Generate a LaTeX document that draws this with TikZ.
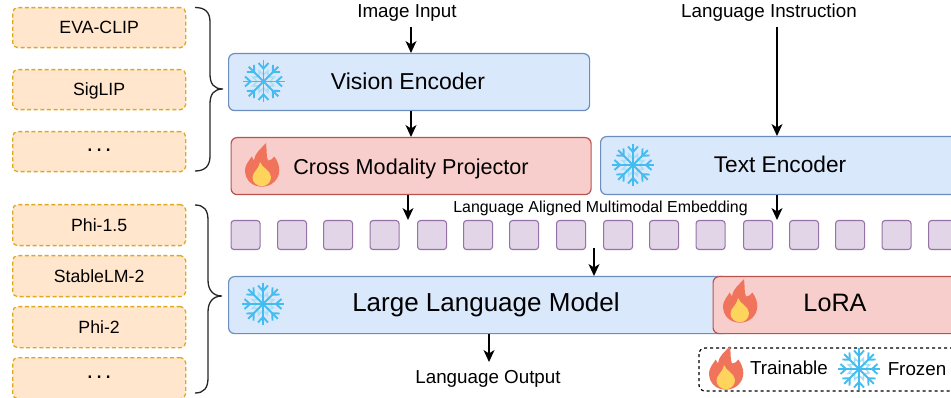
\documentclass[tikz,border=0pt]{standalone}
\usepackage{fontspec}
\setmainfont{Liberation Sans}
\usetikzlibrary{arrows.meta}
\definecolor{bluef}{HTML}{DAE8FC}\definecolor{blued}{HTML}{6C8EBF}
\definecolor{redf}{HTML}{F8CECC}\definecolor{redd}{HTML}{B85450}
\definecolor{orf}{HTML}{FFE6CC}\definecolor{ord}{HTML}{E0A820}
\definecolor{puf}{HTML}{E1D5E7}\definecolor{pud}{HTML}{9673A6}
\definecolor{flk}{HTML}{45BCEF}\definecolor{flkl}{HTML}{A8DFF7}
\definecolor{flo}{HTML}{F0745C}\definecolor{fly}{HTML}{FFD45C}
\newcommand{\threedots}{\raisebox{6pt}{\fontsize{24}{24}\selectfont.\hspace{2.4pt}.\hspace{2.4pt}.}}
\tikzset{
  boxbase/.style={draw,rounded corners=6pt,line width=1.2pt,inner sep=0pt,anchor=north west},
  bluebox/.style={boxbase,fill=bluef,draw=blued},
  redbox/.style={boxbase,fill=redf,draw=redd},
  mini/.style={draw=ord,fill=orf,dash pattern=on 4pt off 2.6pt,line width=1.3pt,rounded corners=5pt,anchor=north west,inner sep=0pt,
     minimum width=173pt,font=\fontsize{17.7}{20}\selectfont,text height=12.5pt,text depth=0pt},
  sq/.style={draw=pud,fill=puf,line width=1.1pt,rounded corners=3pt,minimum width=29pt,minimum height=29pt,inner sep=0pt,anchor=north west},
  lab/.style={inner sep=0pt,font=\fontsize{18.8}{22}\selectfont,text height=13.5pt,text depth=0pt},
  inlab/.style={inner sep=0pt,text height=16pt,text depth=0pt},
  arr/.style={-{Stealth[length=12pt,width=11pt,inset=3.5pt]},line width=1.3pt,black},
  brace/.style={line width=1.3pt,draw=black!85},
  flake/.pic={
    \draw[flkl,line width=1.6pt,line join=miter] (22.5:11.5) \foreach \a in {45,90,...,360}{ -- (\a:6.5) -- (\a+22.5:11.5)};
    \foreach \a in {0,45,...,315}{
      \begin{scope}[rotate=\a]
        \draw[flk,line width=1.9pt] (0,0) -- (21,0);
        \draw[flk,line width=1.9pt] (18.5,-5) -- (13,0) -- (18.5,5);
      \end{scope}}
  },
  flame/.pic={
    \fill[flo] (4,-22) .. controls (5,-15) and (4,-9) .. (6,-4.5)
      .. controls (9,-5) and (11,-6) .. (12.3,-8.5)
      .. controls (15,-5) and (17.3,0) .. (17.3,5)
      .. controls (17.3,15) and (9,21.7) .. (0,21.7)
      .. controls (-10,21.7) and (-17,15) .. (-17,5)
      .. controls (-17,0) and (-13,-4) .. (-10.3,-8.5)
      .. controls (-9.5,-7) and (-9,-6) .. (-8,-4.5)
      .. controls (-7,-13) and (0,-17) .. (4,-22) -- cycle;
    \fill[fly] (-2,-3) .. controls (0,3) and (8.5,5) .. (9,12)
      .. controls (9,17) and (5,21.2) .. (0,21.2)
      .. controls (-5.5,21.2) and (-9.5,17) .. (-9.5,12.5)
      .. controls (-9.5,7) and (-3.5,5) .. (-2,-3) -- cycle;
  }
}
\begin{document}
\begin{tikzpicture}[x=1pt,y=-1pt]
\useasboundingbox (0,0) rectangle (951,398);
% left lists
\node[mini,minimum height=40pt] (m1) at (12,7) {EVA-CLIP};
\node[mini,minimum height=40pt] (m2) at (12,69) {SigLIP};
\node[mini,minimum height=40pt] (m3) at (12,131) {\threedots};
\node[mini,minimum height=41pt] (m4) at (12,204) {Phi-1.5};
\node[mini,minimum height=41pt] (m5) at (12,255) {StableLM-2};
\node[mini,minimum height=41pt] (m6) at (12,306) {Phi-2};
\node[mini,minimum height=41pt] (m7) at (12,357) {\threedots};
% main boxes
\node[bluebox,minimum width=361pt,minimum height=57pt] (vis) at (228,53) {};
\node[inlab,font=\fontsize{23}{26}\selectfont] (vist) at (408,82) {Vision Encoder};
\node[redbox,minimum width=360pt,minimum height=57pt] (cmp) at (230.5,137) {};
\node[inlab,font=\fontsize{21.6}{24}\selectfont] (cmpt) at (411,167) {Cross Modality Projector};
\node[bluebox,minimum width=370pt,minimum height=58pt] (txt) at (600,136) {};
\node[inlab,font=\fontsize{22.7}{26}\selectfont] (txtt) at (780,165) {Text Encoder};
\node[bluebox,minimum width=500pt,minimum height=57pt] (llm) at (228,276) {};
\node[inlab,font=\fontsize{26}{28}\selectfont] (llmt) at (486,304) {Large Language Model};
\node[redbox,minimum width=260pt,minimum height=57pt] (lora) at (712.5,276) {};
\node[inlab,font=\fontsize{25.2}{28}\selectfont] (lorat) at (835,304) {LoRA};
% embedding squares
\foreach \n/\x in {a/230.5,b/277,c/323,d/369.5,e/417,f/463,g/509,h/556,i/603,j/649,k/695.5,l/743,m/789,n/835,o/881.5,p/928}
  \node[sq] (s\n) at (\x,220) {};
\node[lab,font=\fontsize{15.9}{18}\selectfont,text height=11.5pt] (emb) at (600.5,207) {Language Aligned Multimodal Embedding};
% pictograms
\pic at (263.5,81.5) {flake};
\pic at (633,165) {flake};
\pic at (263,304) {flake};
\pic at (262,165) {flame};
\pic at (740,301) {flame};
% texts
\node[lab] (inp) at (407,11) {Image Input};
\node[lab] (ins) at (769,11) {Language Instruction};
\node[lab] (out) at (488,377) {Language Output};
% connectors
\coordinate (xa) at (411,0);
\coordinate (xb) at (408,0);
\coordinate (xc) at (777,0);
\coordinate (xd) at (594,0);
\coordinate (xe) at (489,0);
\coordinate (ya) at (0,27);
\coordinate (yb) at (0,248.5);
\coordinate (yc) at (0,362);
\coordinate (yd) at (0,220);
\draw[arr] (xa |- ya) -- (vis.north -| xa);
\draw[arr] (vis.south -| xa) -- (cmp.north -| xa);
\draw[arr] (cmp.south -| xb) -- (xb |- yd);
\draw[arr] (xc |- ya) -- (txt.north -| xc);
\draw[arr] (txt.south -| xc) -- (xc |- yd);
\draw[arr] (xd |- yb) -- (llm.north -| xd);
\draw[arr] (llm.south -| xe) -- (xe |- yc);
% braces
\draw[brace] (195,7.5) .. controls (205,7.5) and (210,12) .. (210,22) -- (210,74)
  .. controls (210,84) and (214,89) .. (223,89) .. controls (214,89) and (210,94) .. (210,104)
  -- (210,156) .. controls (210,166) and (205,171) .. (195,171);
\draw[brace] (195,205) .. controls (204,205) and (208,210) .. (208,220) -- (208,280)
  .. controls (208,290) and (213,296) .. (222,296) .. controls (213,296) and (208,302) .. (208,312)
  -- (208,378) .. controls (208,388) and (204,393) .. (195,393);
% legend
\draw[dashed,line width=1.2pt,rounded corners=6pt] (699,348) rectangle (970,391);
\pic at (726,368) {flame};
\pic at (859,369) {flake};
\node[lab] (ltr) at (789,368) {Trainable};
\node[lab] (lfr) at (917,369) {Frozen};
\end{tikzpicture}
\end{document}
